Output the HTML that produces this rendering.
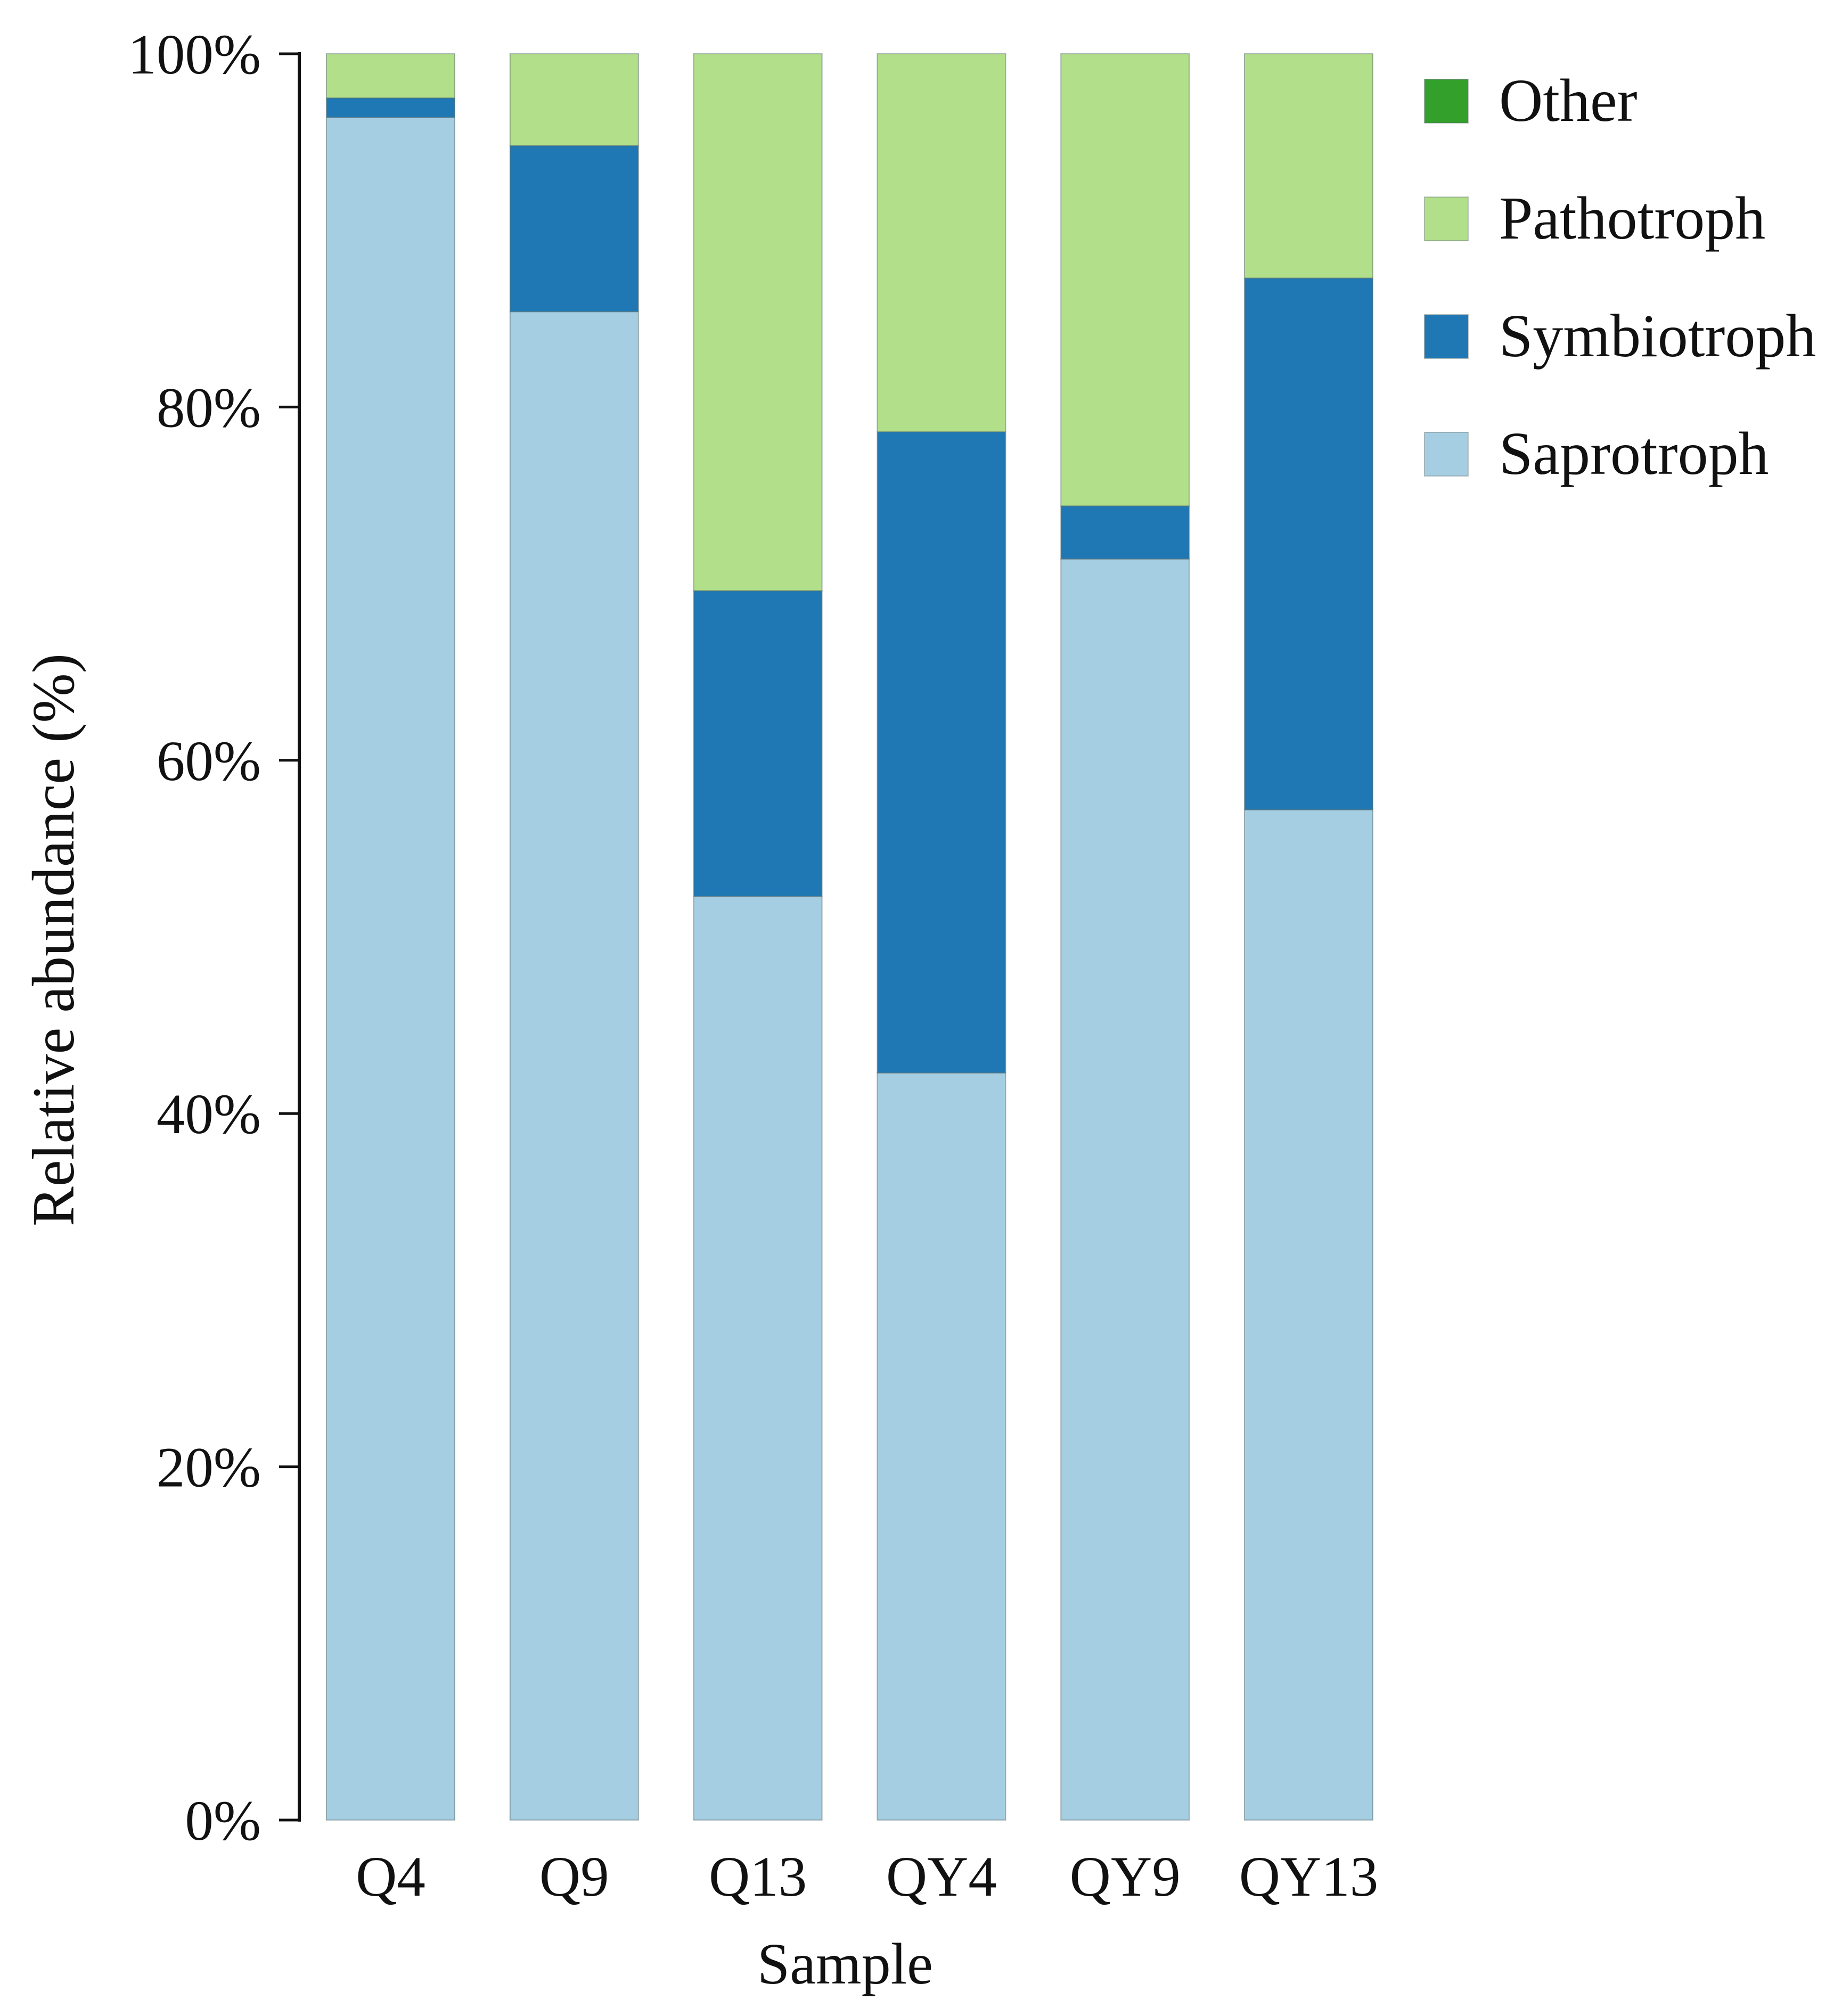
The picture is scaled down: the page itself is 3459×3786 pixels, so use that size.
<!DOCTYPE html>
<html><head><meta charset="utf-8"><style>
html,body{margin:0;padding:0;background:#fff;}
svg text{font-family:"Liberation Serif",serif;fill:#111;}
</style></head><body>
<svg id="chart" width="3459" height="3781" xmlns="http://www.w3.org/2000/svg">
<g id="bars"></g>
<g id="axes"></g>
<g id="legend"></g>
<text x="0" y="0" font-size="112" text-anchor="middle" transform="translate(138,1765) rotate(-90)">Relative abundance (%)</text>
<text x="1587" y="3725" font-size="110" text-anchor="middle">Sample</text>
</svg>
<script>
const categories = ["Q4","Q9","Q13","QY4","QY9","QY13"];
const saprotroph = [96.4, 85.4, 52.3, 42.3, 71.4, 57.2];
const symbiotroph = [1.1, 9.4, 17.3, 36.3, 3.0, 30.1];
const other = [0, 0, 0, 0, 0, 0];
const yTicks = [0, 20, 40, 60, 80, 100];
const seriesNames = ["Other","Pathotroph","Symbiotroph","Saprotroph"];
const seriesColors = {"Other":"#33a02c","Pathotroph":"#b2df8a","Symbiotroph":"#1f78b4","Saprotroph":"#a6cee3"};

const NS="http://www.w3.org/2000/svg";
const y0=3418, y100=101, axisX=562, bar0=613, barW=241, step=344.8;
const yScale=v=>y0-(v/100)*(y0-y100);
const xScale=i=>bar0+i*step;
function mk(tag,attrs,parent){const e=document.createElementNS(NS,tag);for(const k in attrs)e.setAttribute(k,attrs[k]);parent.appendChild(e);return e;}
const bars=document.getElementById('bars'), axes=document.getElementById('axes'), legend=document.getElementById('legend');

categories.forEach((c,i)=>{
  const path=100-saprotroph[i]-symbiotroph[i]-other[i];
  const segs=[["Saprotroph",saprotroph[i]],["Symbiotroph",symbiotroph[i]],["Pathotroph",path],["Other",other[i]]];
  let base=0;
  segs.forEach(([name,v])=>{
    if(v<=0) return;
    const r=mk('rect',{x:xScale(i),y:yScale(base+v),width:barW,height:yScale(base)-yScale(base+v),fill:seriesColors[name],stroke:"rgba(90,110,110,0.5)","stroke-width":2},bars);
    
    
    base+=v;
  });
  const t=mk('text',{x:xScale(i)+barW/2,y:3560,"font-size":107,"text-anchor":"middle"},axes);
  t.textContent=c;
  
  
});

const al=mk('line',{x1:axisX,y1:y100-3,x2:axisX,y2:y0+3,stroke:"#111","stroke-width":6},axes);


yTicks.forEach(v=>{
  const l=mk('line',{x1:axisX-38,y1:yScale(v),x2:axisX,y2:yScale(v),stroke:"#111","stroke-width":5},axes);
  
  
  const t=mk('text',{x:490,y:yScale(v)+37,"font-size":107,"text-anchor":"end"},axes);
  t.textContent=v+"%";
  
  
});

seriesNames.forEach((n,k)=>{
  const y=149+k*221;
  const r=mk('rect',{x:2675,y:y,width:82,height:82,fill:seriesColors[n],stroke:"rgba(90,110,110,0.4)","stroke-width":2},legend);
  
  
  const t=mk('text',{x:2815,y:y+78,"font-size":114},legend);
  t.textContent=n;
  
  
});
</script>
</body></html>
